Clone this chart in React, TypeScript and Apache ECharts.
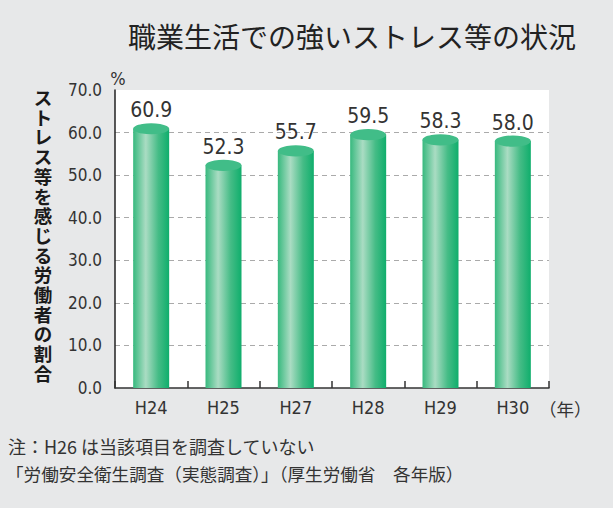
import React, { useEffect, useRef } from "react";
import * as echarts from "echarts";

const categories = ["H24", "H25", "H27", "H28", "H29", "H30"];
const values = [60.9, 52.3, 55.7, 59.5, 58.3, 58.0];
const yTicks = { min: 0, max: 70, interval: 10 };
const titleText = "職業生活での強いストレス等の状況";
const yAxisName = "ストレス等を感じる労働者の割合";
const unitText = "%";
const yearText = "（年）";
const note1 = "注：H26 は当該項目を調査していない";
const note2 = "「労働安全衛生調査（実態調査）」（厚生労働省　各年版）";

const NUM_FONT = "'DejaVu Sans Condensed', 'Liberation Sans Narrow', sans-serif";
const JP_FONT = "'Noto Sans CJK JP', 'Noto Sans', sans-serif";

export default function App() {
  const ref = useRef<HTMLDivElement>(null);
  useEffect(() => {
    document.body.style.margin = "0";
    const chart = echarts.init(ref.current!, null, { renderer: "svg" });
    const bodyGrad = new echarts.graphic.LinearGradient(0, 0, 1, 0, [
      { offset: 0, color: "#37b97e" },
      { offset: 0.35, color: "#aadcc3" },
      { offset: 0.7, color: "#45bc86" },
      { offset: 1, color: "#0fae6c" },
    ]);
    const nameChars = yAxisName.split("");
    const step = 19.7;
    const startY = 97;
    const verticalName = nameChars.map((ch, i) => ({
      type: "text",
      x: 43,
      y: startY + i * step,
      style: {
        text: ch,
        fontSize: 18.5,
        fontWeight: "bold",
        fontFamily: JP_FONT,
        fill: "#1a1a1a",
        align: "center",
        verticalAlign: "middle",
      },
    }));
    chart.setOption({
      animation: false,
      backgroundColor: "#e7e8e9",
      grid: {
        left: 115,
        right: 64,
        top: 90,
        bottom: 120,
        show: true,
        backgroundColor: "#ffffff",
        borderWidth: 0,
      },
      xAxis: {
        type: "category",
        data: categories,
        boundaryGap: true,
        axisLine: { lineStyle: { color: "#333", width: 1.5 } },
        axisTick: {
          show: true,
          inside: true,
          length: 7,
          interval: 0,
          lineStyle: { color: "#333", width: 1.5 },
        },
        axisLabel: {
          color: "#333",
          fontSize: 18,
          fontFamily: NUM_FONT,
          margin: 10,
        },
      },
      yAxis: {
        type: "value",
        min: yTicks.min,
        max: yTicks.max,
        interval: yTicks.interval,
        axisLine: { show: true, lineStyle: { color: "#222", width: 1.5 } },
        axisTick: { show: false },
        axisLabel: {
          color: "#333",
          fontSize: 17,
          fontFamily: NUM_FONT,
          margin: 13,
          formatter: (v: number) => v.toFixed(1),
        },
        splitLine: {
          show: true,
          showMinLine: false,
          showMaxLine: false,
          lineStyle: { color: "#aaaaaa", type: [5, 4], width: 1 },
        },
      },
      series: [
        {
          type: "bar",
          data: values,
          barWidth: 36,
          itemStyle: { color: bodyGrad },
          label: {
            show: true,
            position: "top",
            distance: 8,
            color: "#333",
            fontSize: 21,
            fontFamily: NUM_FONT,
            formatter: (p: any) => Number(p.value).toFixed(1),
          },
          z: 2,
        },
        {
          type: "pictorialBar",
          data: values,
          symbol: "circle",
          symbolSize: [36, 11],
          symbolPosition: "end",
          symbolOffset: [0, "-50%"],
          barGap: "-100%",
          itemStyle: { color: "#41bd88" },
          z: 3,
        },
      ],
      graphic: [
        {
          type: "text",
          left: 128,
          top: 22,
          style: {
            text: titleText,
            fontSize: 28,
            fontFamily: JP_FONT,
            fill: "#222",
          },
        },
        ...verticalName,
        {
          type: "text",
          x: 118,
          y: 78,
          style: {
            text: unitText,
            fontSize: 18,
            fontFamily: NUM_FONT,
            fill: "#333",
            align: "center",
            verticalAlign: "middle",
          },
        },
        {
          type: "text",
          x: 539,
          y: 408,
          style: {
            text: yearText,
            fontSize: 17.5,
            fontFamily: JP_FONT,
            fill: "#333",
            align: "left",
            verticalAlign: "middle",
          },
        },
        {
          type: "text",
          x: 8,
          y: 446,
          style: {
            text: note1,
            fontSize: 18,
            fontFamily: JP_FONT,
            fill: "#333",
            align: "left",
            verticalAlign: "middle",
          },
        },
        {
          type: "text",
          x: 6,
          y: 473,
          style: {
            text: note2,
            fontSize: 17.6,
            fontFamily: JP_FONT,
            fill: "#333",
            align: "left",
            verticalAlign: "middle",
          },
        },
      ],
    });
    return () => chart.dispose();
  }, []);
  return <div ref={ref} style={{ width: 613, height: 508 }} />;
}
